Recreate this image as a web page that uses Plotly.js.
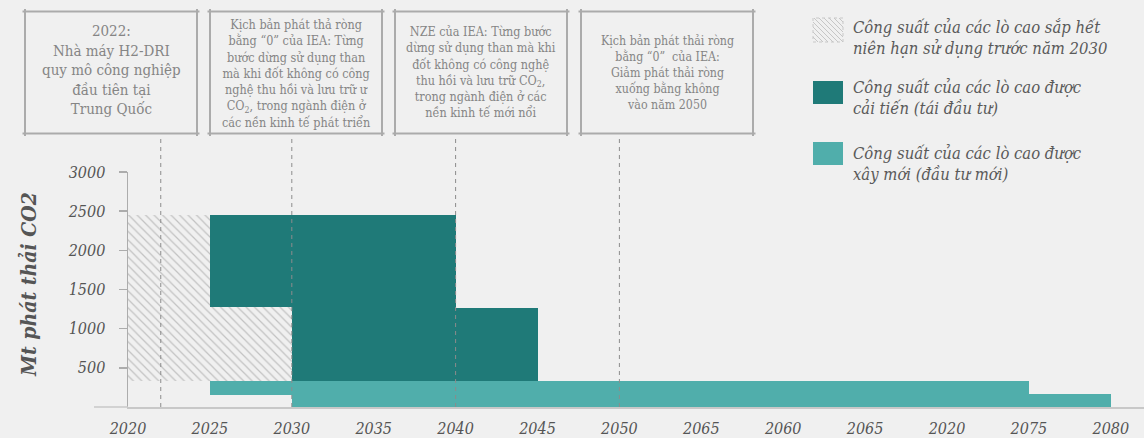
<!DOCTYPE html>
<html>
<head>
<meta charset="utf-8">
<script src="https://cdn.plot.ly/plotly-3.0.1.min.js"></script>
<style>
html,body{margin:0;padding:0;background:#f0f0f0;}
#chart{width:1144px;height:438px;}
</style>
</head>
<body>
<div id="chart"></div>
<script>
// ---- Data ----
const xTickVals = [2020, 2025, 2030, 2035, 2040, 2045, 2050, 2055, 2060, 2065, 2070, 2075, 2080];
const xTickText = ['2020', '2025', '2030', '2035', '2040', '2045', '2050', '2065', '2060', '2065', '2020', '2075', '2080'];
const yTickVals = [500, 1000, 1500, 2000, 2500, 3000];

// Capacity retiring before 2030 (hatched)
const retireStart = [2020, 2025];
const retireEnd = [2025, 2030];
const retireLow = [330, 330];
const retireHigh = [2450, 1280];

// Reinvestment (dark teal)
const reinvStart = [2025, 2030, 2040];
const reinvEnd = [2030, 2040, 2045];
const reinvLow = [1280, 330, 330];
const reinvHigh = [2450, 2450, 1260];

// New build (light teal)
const newStart = [2025, 2030, 2075];
const newEnd = [2030, 2075, 2080];
const newLow = [150, 0, 0];
const newHigh = [330, 330, 165];

// Milestone dashed lines
const milestoneYears = [2022, 2030, 2040, 2050];

const boxTexts = [
  '2022:<br>Nhà máy H2-DRI<br>quy mô công nghiệp<br>đầu tiên tại<br>Trung Quốc',
  'Kịch bản phát thả ròng<br>bằng “0” của IEA: Từng<br>bước dừng sử dụng than<br>mà khi đốt không có công<br>nghệ thu hồi và lưu trữ ư<br>CO<sub>2</sub>, trong ngành điện ở<br>các nền kinh tế phát triển',
  'NZE của IEA: Từng bước<br>dừng sử dụng than mà khi<br>đốt không có công nghệ<br>thu hồi và lưu trữ CO<sub>2</sub>,<br>trong ngành điện ở các<br>nền kinh tế mới nổi',
  'Kịch bản phát thải ròng<br>bằng “0”  của IEA:<br>Giảm phát thải ròng<br>xuống bằng không<br>vào năm 2050'
];
const legendTexts = [
  'Công suất của các lò cao sắp hết<br>niên hạn sử dụng trước năm 2030',
  'Công suất của các lò cao được<br>cải tiến (tái đầu tư)',
  'Công suất của các lò cao được<br>xây mới (đầu tư mới)'
];
const yTitle = 'Mt phát thải CO2';

// ---- Layout geometry ----
const W = 1144, H = 438;
const ML = 128, MR = 0, MT = 172, MB = 31;
const PW = W - ML - MR, PH = H - MT - MB;
const pxYear = 16.38;
const xMax = 2020 + PW / pxYear;
const px = x => (x - ML) / PW;
const py = y => (H - MB - y) / PH;

const FONT = "'DejaVu Serif Condensed', 'Noto Serif', 'DejaVu Serif', serif";

function barTrace(starts, ends, lows, highs, marker) {
  return {
    type: 'bar',
    x: starts.map((s, i) => (s + ends[i]) / 2),
    width: starts.map((s, i) => ends[i] - s),
    base: lows,
    y: highs.map((h, i) => h - lows[i]),
    marker: marker,
    hoverinfo: 'skip',
    showlegend: false
  };
}

const traces = [
  barTrace(retireStart, retireEnd, retireLow, retireHigh, {
    color: '#f0f0f0',
    line: {width: 0},
    pattern: {shape: '\\', fgcolor: '#c2c2c2', bgcolor: '#f0f0f0', size: 6, solidity: 0.2}
  }),
  barTrace(reinvStart, reinvEnd, reinvLow, reinvHigh, {color: '#1f7a78', line: {width: 0}}),
  barTrace(newStart, newEnd, newLow, newHigh, {color: '#50aeab', line: {width: 0}})
];

const shapes = [];
const annotations = [];

// extended x baseline to the left
shapes.push({type: 'line', xref: 'paper', yref: 'paper', x0: px(94), x1: 0, y0: 0, y1: 0,
  line: {color: '#c8c8c8', width: 1.5}});

// milestone dashed lines
milestoneYears.forEach(yr => {
  shapes.push({type: 'line', xref: 'x', yref: 'paper', x0: yr, x1: yr, y0: 0, y1: py(135),
    layer: 'above', line: {color: '#8c8c8c', width: 1, dash: '4px,4px'}});
});

// annotation boxes
const boxL = [25, 210, 395, 581];
const boxW = 172;
const boxT = 11.5, boxB = 133.5;
const boxFont = [15, 12.5, 12.5, 12.3];
const boxYOff = [-3, 1, -1, 0];
boxL.forEach((l, i) => {
  const r = l + boxW;
  const ext = 2.5;
  const ln = {color: '#ababab', width: 2};
  shapes.push({type: 'line', xref: 'paper', yref: 'paper', x0: px(l - ext), x1: px(r + ext), y0: py(boxT), y1: py(boxT), line: ln});
  shapes.push({type: 'line', xref: 'paper', yref: 'paper', x0: px(l - ext), x1: px(r + ext), y0: py(boxB), y1: py(boxB), line: ln});
  shapes.push({type: 'line', xref: 'paper', yref: 'paper', x0: px(l), x1: px(l), y0: py(boxT - ext), y1: py(boxB + ext), line: ln});
  shapes.push({type: 'line', xref: 'paper', yref: 'paper', x0: px(r), x1: px(r), y0: py(boxT - ext), y1: py(boxB + ext), line: ln});
  annotations.push({xref: 'paper', yref: 'paper', x: px(l + boxW / 2), y: py((boxT + boxB) / 2 + boxYOff[i]),
    xanchor: 'center', yanchor: 'middle', align: 'center', showarrow: false,
    text: boxTexts[i], font: {family: FONT, size: boxFont[i], color: '#858585'}});
});

// custom legend
const swX0 = 813, swX1 = 843;
const swY = [[18, 42], [81, 104], [142, 165]];
const legCenters = [37.5, 98, 164];
// hatch swatch
{
  const [t, b] = swY[0];
  shapes.push({type: 'rect', xref: 'paper', yref: 'paper', x0: px(swX0), x1: px(swX1), y0: py(b), y1: py(t),
    fillcolor: '#f0f0f0', line: {color: '#c8c8c8', width: 1, dash: 'dot'}});
  let path = '';
  for (let k = -24; k <= 30; k += 5) {
    let xa = swX0 + k, ya = t, xb = swX0 + k + (b - t), yb = b;
    if (xa < swX0) { ya = t + (swX0 - xa); xa = swX0; }
    if (xb > swX1) { yb = b - (xb - swX1); xb = swX1; }
    if (xa >= swX1 || ya >= b) continue;
    path += `M${px(xa)},${py(ya)} L${px(xb)},${py(yb)} `;
  }
  shapes.push({type: 'path', xref: 'paper', yref: 'paper', path: path, line: {color: '#c6c6c6', width: 1}});
}
shapes.push({type: 'rect', xref: 'paper', yref: 'paper', x0: px(swX0), x1: px(swX1), y0: py(swY[1][1]), y1: py(swY[1][0]),
  fillcolor: '#1f7a78', line: {width: 0}});
shapes.push({type: 'rect', xref: 'paper', yref: 'paper', x0: px(swX0), x1: px(swX1), y0: py(swY[2][1]), y1: py(swY[2][0]),
  fillcolor: '#50aeab', line: {width: 0}});
legendTexts.forEach((t, i) => {
  annotations.push({xref: 'paper', yref: 'paper', x: px(851), y: py(legCenters[i]),
    xanchor: 'left', yanchor: 'middle', align: 'left', showarrow: false,
    text: '<i>' + t + '</i>', font: {family: FONT, size: 16.5, color: '#5a5a5a'}});
});

// y-axis title
annotations.push({xref: 'paper', yref: 'paper', x: px(28), y: py(285), xanchor: 'center', yanchor: 'middle',
  textangle: -90, showarrow: false, text: '<i><b>' + yTitle + '</b></i>',
  font: {family: FONT, size: 21, color: '#555555'}});

const layout = {
  width: W, height: H,
  margin: {l: ML, r: MR, t: MT, b: MB, pad: 0},
  paper_bgcolor: '#f0f0f0',
  plot_bgcolor: '#f0f0f0',
  barmode: 'overlay',
  bargap: 0,
  showlegend: false,
  xaxis: {
    range: [2020, xMax], fixedrange: true,
    tickvals: xTickVals, ticktext: xTickText.map(t => '<i>' + t + '</i>'),
    showgrid: false, zeroline: false,
    showline: true, linecolor: '#c8c8c8', linewidth: 1.5,
    ticks: '', ticklabelstandoff: 6,
    tickfont: {family: FONT, size: 16, color: '#555555'}
  },
  yaxis: {
    range: [0, 3000], fixedrange: true,
    tickvals: yTickVals, ticktext: yTickVals.map(v => '<i>' + v + '</i>'),
    showgrid: false, zeroline: false,
    showline: true, linecolor: '#acacac', linewidth: 1.5,
    ticks: 'outside', ticklen: 8, tickcolor: '#acacac', tickwidth: 1.5,
    ticklabelstandoff: 10,
    tickfont: {family: FONT, size: 16, color: '#555555'}
  },
  shapes: shapes,
  annotations: annotations
};

Plotly.newPlot('chart', traces, layout, {displayModeBar: false, staticPlot: true});
</script>
</body>
</html>
